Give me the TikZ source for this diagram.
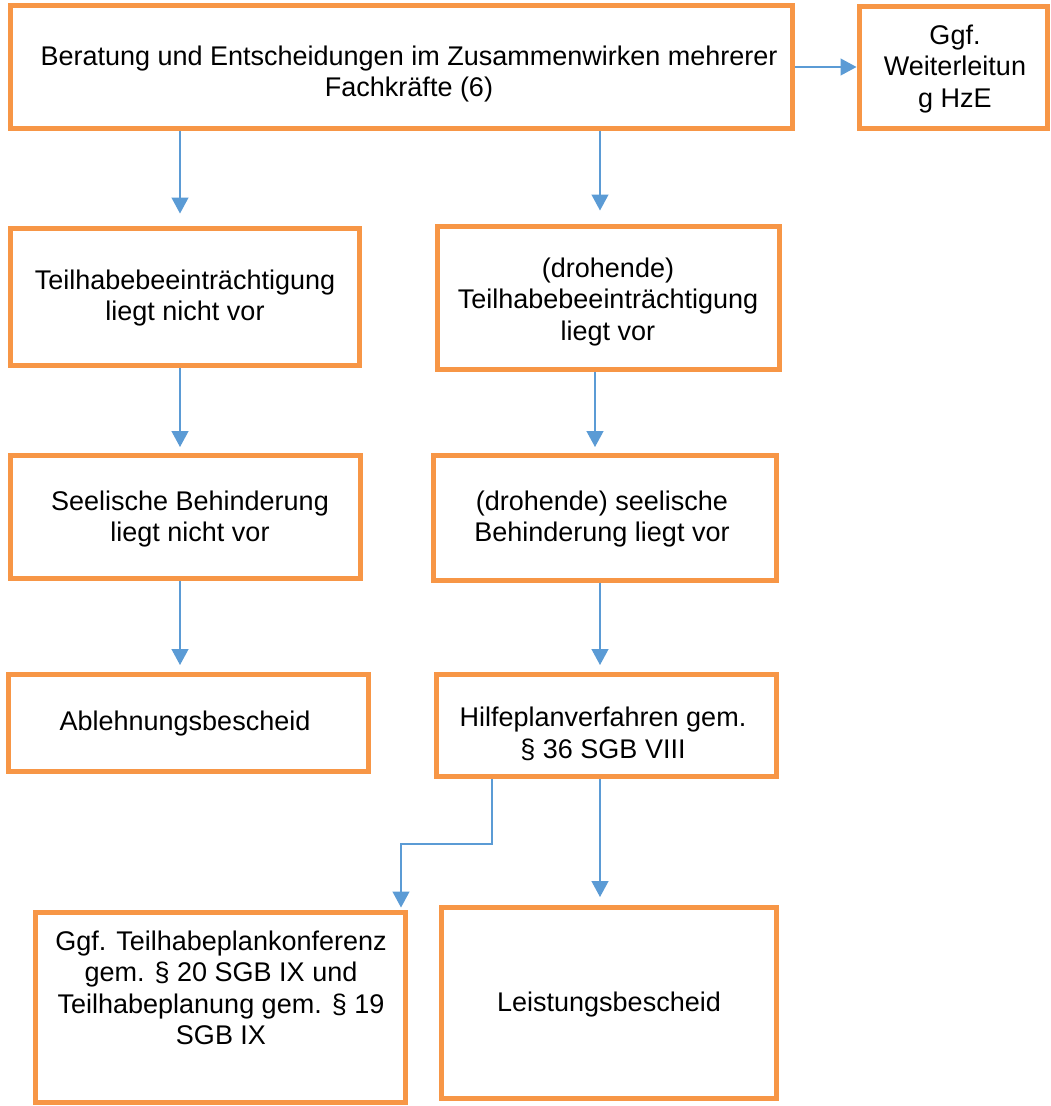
\documentclass[tikz,border=0pt]{standalone}
\usepackage{fontspec}
\setmainfont{Liberation Sans}
\usetikzlibrary{arrows.meta}
\definecolor{boxorange}{HTML}{F79646}
\definecolor{arrowblue}{HTML}{5B9BD5}
\tikzset{
  box/.style={draw=boxorange, line width=5pt, fill=white, inner sep=0pt},
  txt/.style={align=center, font=\fontsize{27}{31.5}\selectfont, inner sep=0pt, text=black},
  arr/.style={draw=arrowblue, line width=1.3pt, -{Triangle[width=17pt,length=16pt]}}
}
\begin{document}
\begin{tikzpicture}[x=1pt,y=-1pt]
\useasboundingbox (0,0) rectangle (1050,1106);
% boxes
\node[box, minimum width=782pt, minimum height=123pt] (b1) at (401,66.5) {};
\node[box, minimum width=188pt, minimum height=122pt] (b2) at (953,67) {};
\node[box, minimum width=349pt, minimum height=137pt] (b3) at (184.5,296.5) {};
\node[box, minimum width=342pt, minimum height=143pt] (b4) at (608,297.5) {};
\node[box, minimum width=350pt, minimum height=123pt] (b5) at (185,516.5) {};
\node[box, minimum width=343pt, minimum height=125pt] (b6) at (604.5,517.5) {};
\node[box, minimum width=360pt, minimum height=97pt] (b7) at (188,722.5) {};
\node[box, minimum width=340pt, minimum height=102pt] (b8) at (606,725) {};
\node[box, minimum width=370pt, minimum height=190pt] (b9) at (220,1007) {};
\node[box, minimum width=335pt, minimum height=191pt] (b10) at (608.5,1002.5) {};
% texts
\node[txt] (t1) at (409,74) {Beratung und Entscheidungen im Zusammenwirken mehrerer\\Fachkräfte (6)};
\node[txt] (t2) at (955,69) {Ggf.\\Weiterleitun\\g HzE};
\node[txt] (t3) at (185,298) {Teilhabebeeinträchtigung\\liegt nicht vor};
\node[txt] (t4) at (608,302) {(drohende)\\Teilhabebeeinträchtigung\\liegt vor};
\node[txt] (t5) at (190,519) {Seelische Behinderung\\liegt nicht vor};
\node[txt] (t6) at (602,519) {(drohende) seelische\\Behinderung liegt vor};
\node[txt] (t7) at (185,724) {Ablehnungsbescheid};
\node[txt] (t8) at (603,734) {Hilfeplanverfahren gem.\\§ 36 SGB VIII};
\node[txt] (t9) at (221,988) {Ggf. Teilhabeplankonferenz\\gem. § 20 SGB IX und\\Teilhabeplanung gem. § 19\\SGB IX};
\node[txt] (t10) at (609,1005) {Leistungsbescheid};
% column coordinates
\coordinate (xa) at (180,0);
\coordinate (xb) at (600,0);
\coordinate (xc) at (595,0);
\coordinate (xd) at (492,0);
\coordinate (xe) at (401,0);
\coordinate (ye) at (0,844);
% connectors
\draw[arr] (b1.east |- 0,67) -- (b2.west |- 0,67);
\draw[arr, shorten >=12pt] (xa |- b1.south) -- (xa |- b3.north);
\draw[arr, shorten >=13pt] (xb |- b1.south) -- (xb |- b4.north);
\draw[arr, shorten >=5.5pt] (xa |- b3.south) -- (xa |- b5.north);
\draw[arr, shorten >=5.5pt] (xc |- b4.south) -- (xc |- b6.north);
\draw[arr, shorten >=6.5pt] (xa |- b5.south) -- (xa |- b7.north);
\draw[arr, shorten >=6.5pt] (xb |- b6.south) -- (xb |- b8.north);
\draw[arr, shorten >=2pt] (xd |- b8.south) -- (xd |- ye) -- (xe |- ye) -- (xe |- b9.north);
\draw[arr, shorten >=7.5pt] (xb |- b8.south) -- (xb |- b10.north);
\end{tikzpicture}
\end{document}
